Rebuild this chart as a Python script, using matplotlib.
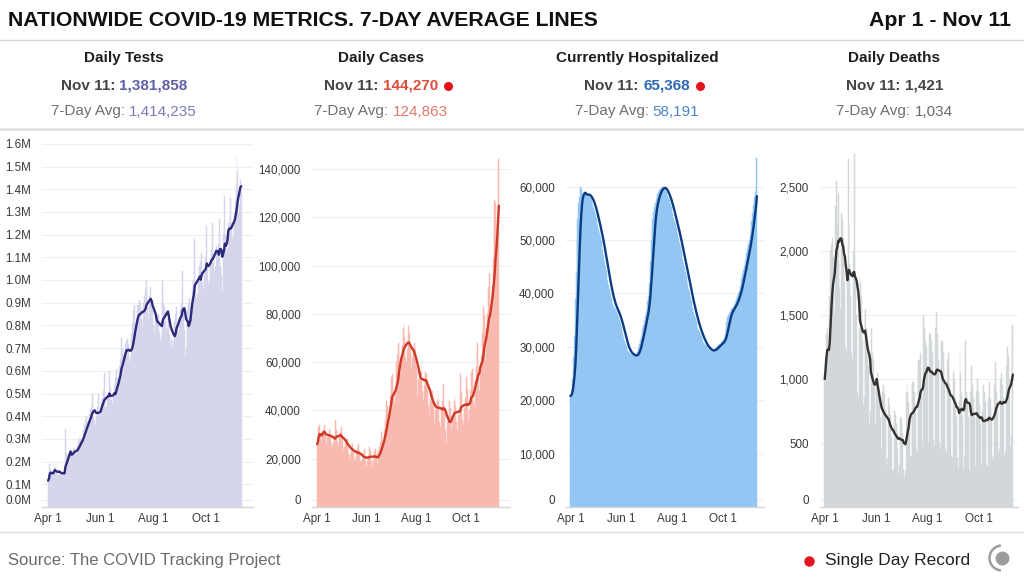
import numpy as np
import pandas as pd
import matplotlib
matplotlib.use('Agg')
import matplotlib.pyplot as plt
from matplotlib.patches import Arc

plt.rcParams['font.family'] = ['Liberation Sans', 'DejaVu Sans']

# ---------------- DATA ----------------
start_date = '2020-04-01'
x_tick_dates = ['2020-04-01', '2020-06-01', '2020-08-01', '2020-10-01']
x_tick_labels = ['Apr 1', 'Jun 1', 'Aug 1', 'Oct 1']

panel_titles = ['Daily Tests', 'Daily Cases', 'Currently Hospitalized', 'Daily Deaths']
latest_values = ['1,381,858', '144,270', '65,368', '1,421']
avg_values = ['1,414,235', '124,863', '58,191', '1,034']
single_day_record = [False, True, True, False]

# daily tests (thousands)
tests_k = [
    116, 135, 190, 165, 145, 140, 150,
    175, 175, 160, 150, 135, 140, 160,
    150, 160, 150, 140, 135, 145, 345,
    240, 230, 235, 220, 215, 225, 250,
    245, 255, 265, 250, 230, 235, 270,
    290, 300, 320, 300, 280, 290, 340,
    360, 380, 400, 380, 350, 365, 410,
    430, 440, 500, 430, 390, 380, 360,
    400, 440, 500, 440, 400, 410, 460,
    480, 510, 590, 470, 430, 440, 480,
    490, 600, 520, 470, 430, 450, 500,
    540, 570, 610, 570, 520, 540, 620,
    650, 745, 700, 660, 620, 660, 720,
    730, 740, 720, 640, 610, 660, 760,
    810, 870, 890, 800, 760, 800, 890,
    890, 910, 900, 830, 790, 810, 900,
    930, 960, 1000, 880, 830, 850, 930,
    970, 900, 870, 800, 760, 780, 840,
    820, 840, 850, 770, 730, 750, 820,
    1000, 900, 880, 820, 780, 790, 860,
    850, 760, 720, 740, 700, 730, 800,
    820, 850, 880, 800, 770, 810, 880,
    870, 900, 1040, 850, 780, 660, 700,
    820, 870, 900, 920, 880, 900, 950,
    990, 1000, 1180, 980, 920, 940, 1000,
    1030, 1060, 1080, 1120, 990, 960, 1040,
    1060, 1100, 1240, 1050, 980, 1000, 1080,
    1130, 1160, 1250, 1110, 1040, 1060, 1150,
    1120, 1140, 1160, 1270, 1060, 1020, 950,
    1200, 1250, 1370, 1200, 1120, 1140, 1250,
    1240, 1280, 1360, 1250, 1180, 1200, 1300,
    1350, 1420, 1540, 1480, 1300, 1330, 1440,
    1382,
]

# daily cases (thousands)
cases_k = [
    26, 28, 33, 34, 30, 27, 30,
    31, 32, 34, 30, 27, 26, 29,
    30, 32, 33, 29, 26, 25, 27,
    28, 30, 36, 32, 27, 25, 28,
    30, 31, 33, 29, 25, 23, 25,
    27, 28, 28, 26, 22, 20, 22,
    23, 27, 26, 24, 20, 19, 21,
    23, 24, 26, 23, 19, 18, 19,
    20, 22, 24, 22, 19, 17, 19,
    21, 22, 25, 23, 19, 17, 19,
    21, 23, 24, 22, 18, 17, 23,
    25, 27, 31, 29, 26, 25, 32,
    36, 38, 44, 42, 38, 37, 46,
    50, 54, 55, 45, 43, 42, 50,
    60, 63, 68, 66, 58, 56, 62,
    67, 74, 76, 70, 62, 60, 65,
    69, 75, 72, 66, 57, 56, 62,
    66, 68, 65, 58, 48, 45, 53,
    53, 56, 60, 56, 48, 44, 50,
    54, 56, 55, 50, 42, 38, 45,
    44, 46, 48, 44, 36, 34, 40,
    42, 44, 48, 44, 35, 33, 40,
    39, 44, 51, 42, 32, 26, 30,
    35, 38, 44, 41, 34, 32, 37,
    39, 44, 46, 42, 35, 32, 38,
    40, 44, 55, 47, 36, 34, 39,
    41, 45, 54, 49, 34, 36, 40,
    48, 56, 57, 50, 44, 42, 52,
    58, 64, 68, 56, 48, 58, 60,
    63, 72, 83, 79, 61, 66, 74,
    80, 91, 97, 86, 76, 84, 91,
    103, 116, 127, 126, 105, 119, 136,
    144.27,
]

# currently hospitalized (thousands)
hosp_k = [
    20.8, 21, 22, 24, 28, 32, 39,
    44, 50, 54, 57, 58, 60, 59.5,
    58.5, 58.2, 58.4, 58.6, 58.8, 58.6, 58.5,
    58.4, 58.3, 58.1, 57.9, 57.6, 57.1, 56.6,
    56, 55.5, 54.8, 54.2, 53.5, 52.8, 52.1,
    51.3, 50.6, 49.8, 49, 48.1, 47.2, 46.1,
    45.2, 44.2, 43.3, 42.4, 41.6, 40.8, 40,
    39.2, 38.6, 38.1, 37.7, 37.3, 37, 36.7,
    36.4, 36.1, 35.6, 35, 34.4, 33.8, 33.1,
    32.5, 31.8, 31.1, 30.6, 30.1, 29.7, 29.3,
    29, 28.8, 28.7, 28.6, 28.5, 28.4, 28.3,
    28.3, 28.3, 28.3, 28.6, 29.1, 29.7, 30.5,
    31.2, 31.9, 32.6, 33.3, 34, 34.8, 35.7,
    36.6, 37.5, 38.5, 39.5, 42, 46, 50,
    52, 54, 55.2, 56.2, 57, 57.6, 58.2,
    58.6, 59, 59.3, 59.6, 59.8, 59.9, 60,
    59.9, 59.7, 59.4, 59, 58.6, 58.2, 57.8,
    57.4, 56.8, 56.2, 55.5, 54.8, 54.2, 53.6,
    53, 52.3, 51.7, 51.1, 50.3, 49.5, 48.8,
    48, 47.3, 46.5, 45.7, 44.9, 44.1, 43.3,
    42.5, 41.7, 40.9, 40.2, 39.4, 38.6, 37.9,
    37.3, 36.6, 36, 35.4, 34.8, 34.2, 33.6,
    33.2, 32.8, 32.4, 32, 31.6, 31.2, 30.8,
    30.5, 30.3, 30.1, 29.9, 29.7, 29.5, 29.4,
    29.3, 29.2, 29.2, 29.3, 29.4, 29.5, 29.7,
    29.8, 29.9, 30.2, 30.4, 30.5, 30.6, 30.7,
    30.9, 31, 31.2, 31.6, 32.4, 33.5, 34.6,
    35.5, 36, 36.3, 36.6, 36.9, 37.1, 37.3,
    37.4, 37.8, 38.2, 38.6, 39, 39.5, 40,
    40.5, 41.2, 42, 42.8, 43.6, 44.4, 45.2,
    46, 46.8, 47.6, 48.4, 49.2, 50, 51,
    52.2, 53.5, 55, 56.5, 58, 59, 60,
    65.368,
]

# daily deaths
deaths = [
    1000, 1150, 1350, 1400, 1260, 1200, 1650,
    2000, 2050, 2100, 1950, 1550, 1500, 2350,
    2550, 2200, 2450, 1900, 1700, 1550, 2300,
    2250, 2100, 2050, 1750, 1250, 1200, 1800,
    2720, 2200, 1900, 1650, 1200, 1150, 2000,
    2760, 1950, 1800, 1500, 900, 850, 1400,
    1800, 1750, 1650, 1300, 800, 850, 1500,
    1550, 1400, 1300, 1100, 650, 600, 750,
    1400, 1200, 1150, 950, 650, 650, 1000,
    1050, 950, 850, 700, 400, 450, 900,
    950, 880, 760, 650, 330, 380, 850,
    800, 720, 650, 550, 280, 300, 750,
    720, 650, 600, 450, 260, 330, 700,
    690, 650, 580, 300, 230, 280, 900,
    960, 900, 820, 700, 400, 400, 950,
    980, 980, 900, 800, 450, 420, 1100,
    1150, 1150, 1200, 920, 480, 520, 1500,
    1400, 1300, 1250, 1100, 550, 500, 1350,
    1350, 1300, 1200, 1050, 520, 480, 1400,
    1520, 1350, 1150, 1050, 500, 450, 1300,
    1300, 1200, 1100, 950, 450, 420, 1150,
    1200, 1100, 950, 850, 400, 380, 1050,
    1080, 1000, 850, 700, 380, 300, 830,
    1200, 1050, 900, 700, 300, 400, 1250,
    1300, 900, 850, 700, 280, 300, 900,
    1100, 950, 850, 700, 300, 320, 900,
    1000, 900, 800, 650, 320, 330, 750,
    950, 900, 820, 680, 330, 320, 850,
    980, 850, 780, 670, 380, 400, 950,
    1130, 1050, 900, 800, 420, 450, 1000,
    1050, 1020, 950, 850, 400, 440, 1100,
    1150, 1250, 1180, 1000, 480, 560, 1350,
    1421,
]

tests_yticks = [0, 100, 200, 300, 400, 500, 600, 700, 800, 900, 1000, 1100, 1200, 1300, 1400, 1500, 1600]
tests_ylabels = ['0.0M', '0.1M', '0.2M', '0.3M', '0.4M', '0.5M', '0.6M', '0.7M', '0.8M', '0.9M',
                 '1.0M', '1.1M', '1.2M', '1.3M', '1.4M', '1.5M', '1.6M']
cases_yticks = [0, 20, 40, 60, 80, 100, 120, 140]
cases_ylabels = ['0', '20,000', '40,000', '60,000', '80,000', '100,000', '120,000', '140,000']
hosp_yticks = [0, 10, 20, 30, 40, 50, 60]
hosp_ylabels = ['0', '10,000', '20,000', '30,000', '40,000', '50,000', '60,000']
deaths_yticks = [0, 500, 1000, 1500, 2000, 2500]
deaths_ylabels = ['0', '500', '1,000', '1,500', '2,000', '2,500']

# ---------------- STYLE / LAYOUT ----------------
W, H = 1024, 582
styles = [
    dict(bar='#d5d5ec', line='#2c2b7b', val='#5f60a8', avg='#7a7bb9'),
    dict(bar='#f8b9b0', line='#cf3a27', val='#d84e3b', avg='#e07a69'),
    dict(bar='#93c6f2', line='#0c3d83', val='#2c69b0', avg='#4d86c6'),
    dict(bar='#d4d7d9', line='#333333', val='#444444', avg='#6a6a6a'),
]
# pixel layout: axes left/right, bar extent, px per unit, header centre
layouts = [
    dict(ax_l=42, ax_r=253, bar_l=47.7, bar_r=241.7, ppu=0.227, cx=124),
    dict(ax_l=312, ax_r=510, bar_l=316.7, bar_r=499.3, ppu=2.415, cx=381),
    dict(ax_l=566, ax_r=764, bar_l=570.0, bar_r=757.3, ppu=5.34, cx=637),
    dict(ax_l=820, ax_r=1018, bar_l=824.3, bar_r=1013.3, ppu=0.128, cx=894.5),
]
AX_TOP, AX_BOT = 140, 507
BOTTOM_LABEL_LIFT = 7.5  # px

series = [tests_k, cases_k, hosp_k, deaths]
yticks = [tests_yticks, cases_yticks, hosp_yticks, deaths_yticks]
ylabels = [tests_ylabels, cases_ylabels, hosp_ylabels, deaths_ylabels]

fig = plt.figure(figsize=(W / 100, H / 100), dpi=100)
fig.patch.set_facecolor('white')
renderer = fig.canvas.get_renderer()

ov = fig.add_axes([0, 0, 1, 1])
ov.set_xlim(0, W)
ov.set_ylim(H, 0)
ov.axis('off')

dates = pd.date_range(start_date, periods=len(tests_k), freq='D')
days = np.asarray((dates - dates[0]).days)
tick_pos = [(pd.Timestamp(d) - dates[0]).days for d in x_tick_dates]
n = len(days)

for i in range(4):
    L = layouts[i]
    st = styles[i]
    vals = np.asarray(series[i], dtype=float)
    avg = pd.Series(vals).rolling(7, min_periods=1).mean().values

    ax = fig.add_axes([L['ax_l'] / W, 1 - AX_BOT / H, (L['ax_r'] - L['ax_l']) / W, (AX_BOT - AX_TOP) / H])
    ax.patch.set_alpha(0)
    ppd = (L['bar_r'] - L['bar_l']) / n
    ax.set_xlim(-0.5 - (L['bar_l'] - L['ax_l']) / ppd, (n - 0.5) + (L['ax_r'] - L['bar_r']) / ppd)
    ax.set_ylim(0, (AX_BOT - AX_TOP) / L['ppu'])

    ax.bar(days, vals, width=1.0, color=st['bar'], edgecolor=st['bar'], linewidth=0.35, zorder=2)
    ax.plot(days, avg, color=st['line'], lw=1.7, zorder=3, solid_capstyle='round', solid_joinstyle='round')

    tv = list(yticks[i])
    tv[0] = BOTTOM_LABEL_LIFT / L['ppu']
    ax.set_yticks(tv)
    ax.set_yticklabels(ylabels[i])
    ax.set_xticks(tick_pos)
    ax.set_xticklabels(x_tick_labels)
    ax.tick_params(axis='y', length=0, pad=8, labelsize=8.4, labelcolor='#3a3a3a')
    ax.tick_params(axis='x', length=0, pad=4.5, labelsize=8.4, labelcolor='#3a3a3a')
    ax.yaxis.grid(True, color='#efefef', lw=0.8, zorder=0)
    ax.set_axisbelow(True)
    for s in ['left', 'right', 'top']:
        ax.spines[s].set_visible(False)
    ax.spines['bottom'].set_color('#d6d6d6')
    ax.spines['bottom'].set_linewidth(1.0)


def draw_pieces(xc, yc, pieces, size):
    objs = [ov.text(0, yc, s, color=c, fontsize=size, fontweight=w, ha='left', va='center')
            for s, c, w in pieces]
    widths = [o.get_window_extent(renderer).width for o in objs]
    gap = size * 100 / 72 * 0.28
    total = sum(widths) + gap * (len(objs) - 1)
    x = xc - total / 2
    for o, wd in zip(objs, widths):
        o.set_x(x)
        x += wd + gap
    return x - gap


# title row
ov.text(8, 20, 'NATIONWIDE COVID-19 METRICS. 7-DAY AVERAGE LINES', fontsize=15.3,
        fontweight='bold', color='#111111', ha='left', va='center')
ov.text(1011, 20, 'Apr 1 - Nov 11', fontsize=15.3, fontweight='bold', color='#111111',
        ha='right', va='center')
ov.plot([0, W], [40, 40], color='#d4d4d4', lw=1)
ov.plot([0, W], [129, 129], color='#e2e2e2', lw=2)
ov.plot([0, W], [532, 532], color='#dcdcdc', lw=1)

RED = '#e3141c'
for i in range(4):
    L = layouts[i]
    st = styles[i]
    ov.text(L['cx'], 58, panel_titles[i], fontsize=11, fontweight='bold', color='#1e1e1e',
            ha='center', va='center')
    end = draw_pieces(L['cx'], 86, [('Nov 11:', '#454545', 'bold'), (latest_values[i], st['val'], 'bold')], 11)
    if single_day_record[i]:
        ov.plot([end + 10], [86], 'o', color=RED, ms=6.5, mec='none')
    draw_pieces(L['cx'], 111.5, [('7-Day Avg:', '#707070', 'normal'), (avg_values[i], st['avg'], 'normal')], 11)

# footer
ov.text(8, 560, 'Source: The COVID Tracking Project', fontsize=12, color='#6b6b6b', ha='left', va='center')
ov.plot([809], [561], 'o', color=RED, ms=7.5, mec='none')
ov.text(825, 561, 'Single Day Record', fontsize=12.5, color='#222222', ha='left', va='center')
ov.plot([1002], [558], 'o', color='#9c9c9c', ms=10, mec='none')
ov.add_patch(Arc((1002, 558), 25, 25, theta1=95, theta2=265, color='#9c9c9c', lw=1.8))

fig.savefig('out.png', dpi=100, facecolor='white')
